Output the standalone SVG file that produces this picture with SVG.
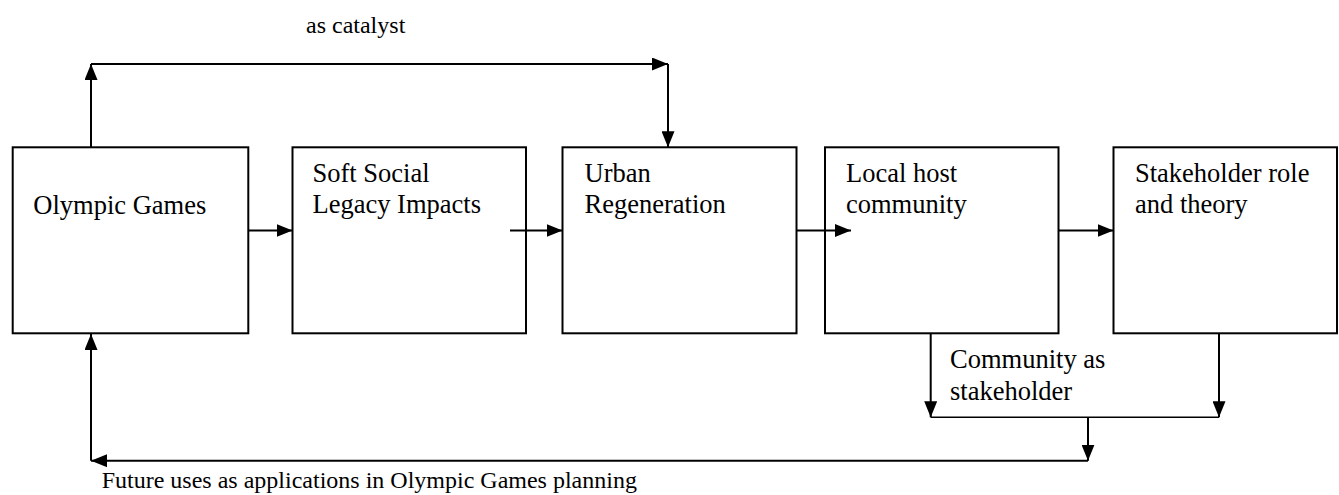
<svg xmlns="http://www.w3.org/2000/svg" width="1339" height="495" viewBox="0 0 1339 495">
  <style>
    .box { fill: #ffffff; stroke: #000000; stroke-width: 2; }
    .lbl { font-family: "Liberation Serif", "Times New Roman", serif; font-size: 26.5px; fill: #000000; }
    .sm { font-family: "Liberation Serif", "Times New Roman", serif; font-size: 24px; fill: #000000; }
    .ln { fill: none; stroke: #000000; stroke-width: 2; }
    .arr { fill: none; stroke: #000000; stroke-width: 2; marker-end: url(#ah); }
  </style>
  <defs>
    <marker id="ah" viewBox="0 0 16 13" refX="16" refY="6.5" markerWidth="16" markerHeight="13" markerUnits="userSpaceOnUse" orient="auto">
      <path d="M0,0 L16,6.5 L0,13 Z" fill="#000000"/>
    </marker>
  </defs>
  <rect width="1339" height="495" fill="#ffffff"/>

  <g id="n1">
    <rect class="box" x="12.7" y="147.3" width="235.6" height="186"/>
    <text class="lbl" x="33.3" y="214">Olympic Games</text>
  </g>
  <g id="n2">
    <rect class="box" x="292.5" y="147.3" width="233.5" height="186"/>
    <text class="lbl" x="312.5" y="182">Soft Social</text>
    <text class="lbl" x="312.5" y="213">Legacy Impacts</text>
  </g>
  <g id="n3">
    <rect class="box" x="562.5" y="147.3" width="234" height="186"/>
    <text class="lbl" x="584.5" y="182">Urban</text>
    <text class="lbl" x="584.5" y="213">Regeneration</text>
  </g>
  <g id="n4">
    <rect class="box" x="825" y="147.3" width="233.5" height="186"/>
    <text class="lbl" x="846" y="182">Local host</text>
    <text class="lbl" x="846" y="213">community</text>
  </g>
  <g id="n5">
    <rect class="box" x="1113.5" y="147.3" width="223.5" height="186"/>
    <text class="lbl" x="1135" y="182">Stakeholder role</text>
    <text class="lbl" x="1135" y="213">and theory</text>
  </g>

  <g id="connectors">
    <line class="arr" x1="248.3" y1="230.5" x2="292.5" y2="230.5"/>
    <line class="arr" x1="510" y1="230.5" x2="562.5" y2="230.5"/>
    <line class="arr" x1="796.5" y1="230.5" x2="851" y2="230.5"/>
    <line class="arr" x1="1058.5" y1="230.5" x2="1113.5" y2="230.5"/>

    <line class="arr" x1="91" y1="147.3" x2="91" y2="64"/>
    <line class="arr" x1="91" y1="64" x2="668" y2="64"/>
    <line class="arr" x1="668" y1="64" x2="668" y2="147.3"/>

    <line class="arr" x1="930.7" y1="333.3" x2="930.7" y2="417.3"/>
    <line class="arr" x1="1219" y1="333.3" x2="1219" y2="417.3"/>
    <line class="ln" style="stroke-width:1.5" x1="930.7" y1="417.3" x2="1219" y2="417.3"/>
    <line class="arr" x1="1088" y1="417.3" x2="1088" y2="460.7"/>
    <line class="arr" x1="1088" y1="460.7" x2="91" y2="460.7"/>
    <line class="arr" x1="91" y1="460.7" x2="91" y2="334"/>

    <text class="sm" x="306" y="33">as catalyst</text>
    <text class="lbl" x="950" y="368">Community as</text>
    <text class="lbl" x="950" y="400">stakeholder</text>
    <text class="sm" x="101.7" y="488">Future uses as applications in Olympic Games planning</text>
  </g>
</svg>
